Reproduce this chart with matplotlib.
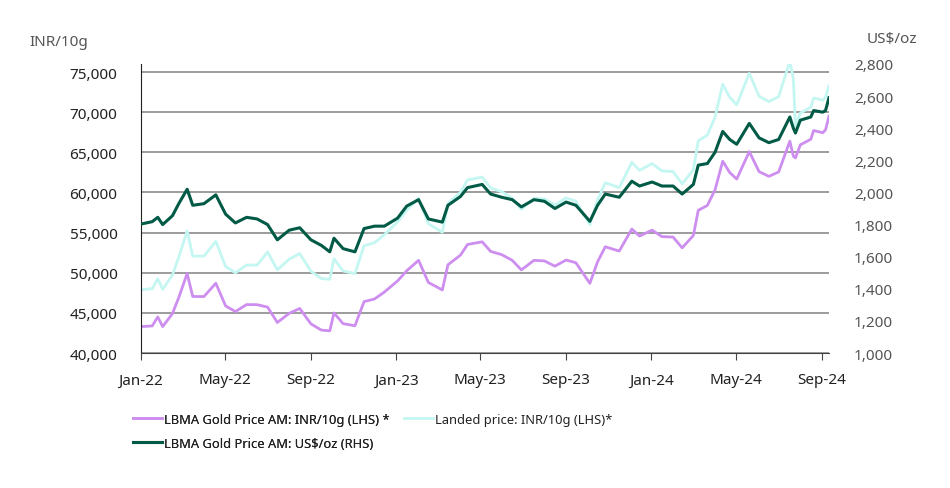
import pandas as pd
import matplotlib.pyplot as plt
import matplotlib.dates as mdates
from matplotlib.ticker import FuncFormatter

plt.rcParams['font.family'] = ['Noto Sans', 'DejaVu Sans']

# Gold prices, Jan 2022 - Sep 2024
dates = [
    '2022-01-03', '2022-01-17', '2022-01-25', '2022-02-01', '2022-02-15', '2022-02-24',
    '2022-03-08', '2022-03-16', '2022-04-01', '2022-04-18', '2022-05-02', '2022-05-16',
    '2022-06-01', '2022-06-16', '2022-07-01', '2022-07-15', '2022-08-01', '2022-08-16',
    '2022-09-01', '2022-09-16', '2022-09-28', '2022-10-04', '2022-10-17', '2022-11-03',
    '2022-11-16', '2022-12-01', '2022-12-15', '2023-01-03', '2023-01-16', '2023-02-02',
    '2023-02-16', '2023-03-08', '2023-03-16', '2023-04-03', '2023-04-13', '2023-05-04',
    '2023-05-16', '2023-06-01', '2023-06-16', '2023-06-29', '2023-07-17', '2023-08-01',
    '2023-08-16', '2023-09-01', '2023-09-15', '2023-10-05', '2023-10-16', '2023-10-27',
    '2023-11-16', '2023-12-04', '2023-12-15', '2024-01-02', '2024-01-16', '2024-02-01',
    '2024-02-14', '2024-03-01', '2024-03-08', '2024-03-21', '2024-04-01', '2024-04-12',
    '2024-04-22', '2024-05-02', '2024-05-20', '2024-06-03', '2024-06-17', '2024-07-01',
    '2024-07-17', '2024-07-22', '2024-07-25', '2024-08-01', '2024-08-16', '2024-08-20',
    '2024-09-02', '2024-09-06', '2024-09-11',
]

lbma_inr = [
    43300, 43370, 44490, 43290, 44910, 46910,
    49900, 47040, 47030, 48690, 45870, 45160,
    46030, 46020, 45720, 43800, 44940, 45550,
    43630, 42850, 42760, 44990, 43660, 43390,
    46400, 46730, 47590, 48980, 50240, 51540,
    48790, 47850, 50990, 52200, 53520, 53850,
    52660, 52250, 51540, 50350, 51540, 51470,
    50820, 51580, 51240, 48680, 51360, 53230,
    52700, 55440, 54570, 55300, 54500, 54440,
    53100, 54640, 57770, 58380, 60330, 63890,
    62480, 61670, 65080, 62590, 62010, 62550,
    66390, 64510, 64300, 65930, 66630, 67710,
    67440, 67790, 69500,
]

landed_inr = [
    47900, 48010, 49250, 47920, 49720, 51930,
    55200, 52070, 52070, 53900, 50780, 49990,
    50960, 50940, 52580, 50370, 51680, 52390,
    50180, 49270, 49180, 51740, 50210, 49900,
    53360, 53740, 54730, 56330, 57780, 59270,
    56110, 55030, 58640, 60030, 61550, 61920,
    60560, 60090, 59270, 57900, 59270, 59190,
    58450, 59320, 58920, 55990, 59060, 61220,
    60600, 63750, 62750, 63600, 62680, 62600,
    61070, 62830, 66430, 67140, 69380, 73480,
    71850, 70920, 74840, 71980, 71320, 71930,
    76350, 74190, 68200, 69890, 70630, 71770,
    71490, 71860, 73300,
]

lbma_usd = [
    1805, 1818, 1845, 1800, 1855, 1930,
    2020, 1920, 1930, 1985, 1865, 1810,
    1845, 1835, 1800, 1705, 1765, 1780,
    1705, 1670, 1630, 1715, 1650, 1630,
    1775, 1790, 1790, 1840, 1915, 1955,
    1835, 1815, 1920, 1975, 2030, 2050,
    1990, 1970, 1955, 1910, 1955, 1945,
    1900, 1940, 1920, 1820, 1920, 1990,
    1970, 2070, 2040, 2065, 2040, 2040,
    1990, 2050, 2170, 2180, 2250, 2380,
    2330, 2300, 2430, 2340, 2310, 2330,
    2470, 2400, 2370, 2450, 2470, 2510,
    2500, 2510, 2590,
]

x = pd.to_datetime(dates)

fig = plt.figure(figsize=(9.5, 4.89), dpi=100)
ax = fig.add_axes([141 / 950, 1 - 354 / 489, (829 - 141) / 950, (354 - 65) / 489])
ax2 = ax.twinx()

l_landed, = ax.plot(x, landed_inr, color='#c4f6f2', lw=2.0, label='Landed price: INR/10g (LHS)*')
l_inr, = ax.plot(x, lbma_inr, color='#cd8ef0', lw=2.0, label='LBMA Gold Price AM: INR/10g (LHS) *')
l_usd, = ax2.plot(x, lbma_usd, color='#005a45', lw=2.2, label='LBMA Gold Price AM: US$/oz (RHS)')

ax.set_ylim(40000, 76000)
ax.set_yticks(range(40000, 75001, 5000))
ax.yaxis.set_major_formatter(FuncFormatter(lambda v, p: f'{v:,.0f}'))
ax2.set_ylim(1000, 2800)
ax2.set_yticks(range(1000, 2801, 200))
ax2.yaxis.set_major_formatter(FuncFormatter(lambda v, p: f'{v:,.0f}'))

ax.set_xlim(pd.Timestamp('2022-01-01'), pd.Timestamp('2024-09-11'))
ax.xaxis.set_major_locator(mdates.MonthLocator(bymonth=[1, 5, 9]))
ax.xaxis.set_major_formatter(mdates.DateFormatter('%b-%y'))

ax.grid(axis='y', color='#9c9c9c', lw=1.4)
ax.set_axisbelow(True)
for a in (ax, ax2):
    a.spines['top'].set_visible(False)
    a.spines['right'].set_visible(False)
ax2.spines['left'].set_visible(False)
ax2.spines['bottom'].set_visible(False)
ax.spines['left'].set_color('#222222')
ax.spines['bottom'].set_color('#444444')

ax.tick_params(axis='y', length=0, pad=17, labelsize=11, labelcolor='#222222')
ax.tick_params(axis='x', length=5, direction='out', color='#444444', pad=9,
               labelsize=11, labelcolor='#222222')
ax2.tick_params(axis='y', length=0, pad=18, labelsize=11, labelcolor='#555555')

fig.text(29 / 950, 1 - 43 / 489, 'INR/10g', fontsize=11, color='#555555', va='center')
fig.text(867 / 950, 1 - 40 / 489, 'US$/oz', fontsize=11, color='#555555', va='center')

leg_kw = dict(loc='upper left', frameon=False, fontsize=9.3, handlelength=2.3,
              handletextpad=0.1, labelspacing=0.85, labelcolor='#222222')
leg1 = fig.legend([l_inr, l_usd], [l_inr.get_label(), l_usd.get_label()],
                  bbox_to_anchor=(121 / 950, 1 - 402 / 489), **leg_kw)
fig.add_artist(leg1)
fig.legend([l_landed], [l_landed.get_label()],
           bbox_to_anchor=(392 / 950, 1 - 402 / 489), **leg_kw)

fig.savefig('out.png', dpi=100)
